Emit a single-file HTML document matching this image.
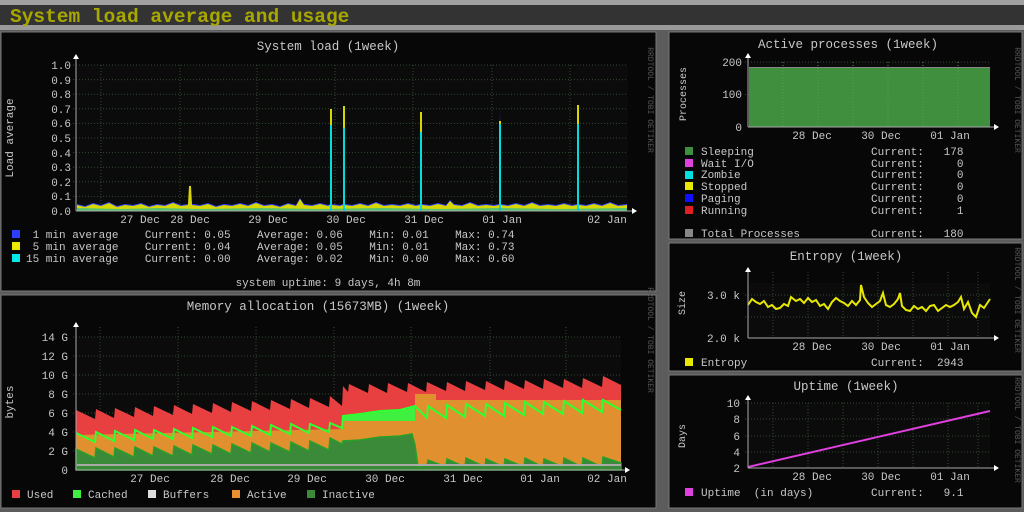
<!DOCTYPE html>
<html><head><meta charset="utf-8"><style>
html,body{margin:0;padding:0;background:#5a5a5a;width:1024px;height:512px;overflow:hidden}
svg{display:block}
text{font-family:"Liberation Mono",monospace;font-size:11px;fill:#c8c8c8}
.t{font-size:12.5px}
.w{font-size:8px;fill:#555}
.gl{stroke:#2f4a2f;stroke-dasharray:1,2}
.ax{stroke:#aaa}
</style></head><body>
<svg width="1024" height="512" xmlns="http://www.w3.org/2000/svg">
<rect x="0" y="0" width="1024" height="512" fill="#5c5c5c"/>
<rect x="0" y="0" width="1024" height="5" fill="#a0a0a0"/>
<rect x="0" y="5" width="1024" height="20" fill="#333"/>
<rect x="0" y="25" width="1024" height="5" fill="#9a9a9a"/>
<text x="10" y="22" style="font-family:'Liberation Mono',monospace;font-size:19.5px;font-weight:bold;fill:#a8a800">System load average and usage</text>
<rect x="1" y="32" width="655" height="259" fill="#070707" stroke="#777"/>
<rect x="1" y="295" width="655" height="213" fill="#070707" stroke="#777"/>
<rect x="669" y="32" width="353" height="207" fill="#070707" stroke="#777"/>
<rect x="669" y="243" width="353" height="128" fill="#070707" stroke="#777"/>
<rect x="669" y="375" width="353" height="133" fill="#070707" stroke="#777"/>

<!-- LOAD chart -->
<rect x="76" y="65" width="552" height="146" fill="#0b0b0b"/>
<g class="gl">
<line x1="73" x2="628" y1="65" y2="65"/><line x1="73" x2="628" y1="79.6" y2="79.6"/><line x1="73" x2="628" y1="94.2" y2="94.2"/><line x1="73" x2="628" y1="108.8" y2="108.8"/><line x1="73" x2="628" y1="123.4" y2="123.4"/><line x1="73" x2="628" y1="138" y2="138"/><line x1="73" x2="628" y1="152.6" y2="152.6"/><line x1="73" x2="628" y1="167.2" y2="167.2"/><line x1="73" x2="628" y1="181.8" y2="181.8"/><line x1="73" x2="628" y1="196.4" y2="196.4"/>
<line x1="101" x2="101" y1="65" y2="211"/><line x1="180" x2="180" y1="65" y2="211"/><line x1="257" x2="257" y1="65" y2="211"/><line x1="335" x2="335" y1="65" y2="211"/><line x1="413" x2="413" y1="65" y2="211"/><line x1="492" x2="492" y1="65" y2="211"/><line x1="570" x2="570" y1="65" y2="211"/>
</g>
<g text-anchor="end">
<text x="71" y="69">1.0</text><text x="71" y="84">0.9</text><text x="71" y="98">0.8</text><text x="71" y="113">0.7</text><text x="71" y="127">0.6</text><text x="71" y="142">0.5</text><text x="71" y="157">0.4</text><text x="71" y="171">0.3</text><text x="71" y="186">0.2</text><text x="71" y="200">0.1</text><text x="71" y="215">0.0</text>
</g>
<path d="M77,211 L77,204 L85,206 L93,203 L101,205 L109,202 L117,206 L125,204 L133,205 L141,203 L149,206 L157,204 L165,205 L173,202 L181,205 L188,204 L190,184 L192,204 L200,205 L208,203 L216,206 L224,204 L232,205 L240,203 L248,205 L256,202 L264,205 L272,204 L280,206 L288,203 L296,205 L300,198 L304,204 L312,205 L320,203 L328,205 L330,204 L331,107 L332,204 L340,205 L343,204 L344,105 L345,204 L352,205 L360,203 L368,205 L376,202 L384,205 L392,204 L400,205 L408,203 L416,205 L420,204 L421,111 L422,204 L430,205 L438,203 L446,205 L450,200 L454,204 L462,205 L470,202 L478,205 L486,204 L494,205 L499,204 L500,106 L501,204 L508,205 L516,203 L524,205 L532,202 L540,205 L548,204 L556,205 L564,203 L572,205 L577,204 L578,103 L579,204 L586,205 L594,203 L602,205 L610,202 L618,205 L627,204 L627,211 Z" fill="#2a3fff"/>
<path d="M77,211 L77,205 L85,207 L93,204 L101,206 L109,203 L117,207 L125,205 L133,206 L141,204 L149,207 L157,205 L165,206 L173,203 L181,206 L188,205 L189,186 L191,186 L192,205 L200,206 L208,204 L216,207 L224,205 L232,206 L240,204 L248,206 L256,203 L264,206 L272,205 L280,207 L288,204 L296,206 L300,199 L304,205 L312,206 L320,204 L328,206 L330,205 L330,109 L332,109 L332,205 L340,206 L343,205 L343,106 L345,106 L345,205 L352,206 L360,204 L368,206 L376,203 L384,206 L392,205 L400,206 L408,204 L416,206 L420,205 L420,112 L422,112 L422,205 L430,206 L438,204 L446,206 L450,201 L454,205 L462,206 L470,203 L478,206 L486,205 L494,206 L499,205 L499,121 L501,121 L501,205 L508,206 L516,204 L524,206 L532,203 L540,206 L548,205 L556,206 L564,204 L572,206 L577,205 L577,105 L579,105 L579,205 L586,206 L594,204 L602,206 L610,203 L618,206 L627,205 L627,211 Z" fill="#d8d800"/>
<g stroke="#00dede" stroke-width="2">
<line x1="331" x2="331" y1="211" y2="125"/><line x1="344" x2="344" y1="211" y2="128"/><line x1="421" x2="421" y1="211" y2="132"/><line x1="500" x2="500" y1="211" y2="124"/><line x1="578" x2="578" y1="211" y2="124"/>
</g>
<path d="M77,211 L77,208 L120,209 L160,208 L200,209 L260,208 L320,209 L380,208 L440,209 L500,208 L560,209 L627,208 L627,211 Z" fill="#00b8b8" opacity="0.6"/>
<line class="ax" x1="76" x2="632" y1="211" y2="211"/><line class="ax" x1="76" x2="76" y1="59" y2="211"/>
<polygon points="73,59 79,59 76,54" fill="#fff"/><polygon points="632,208 632,214 637,211" fill="#fff"/>
<g text-anchor="middle"><text x="140" y="223">27 Dec</text><text x="190" y="223">28 Dec</text><text x="268" y="223">29 Dec</text><text x="346" y="223">30 Dec</text><text x="424" y="223">31 Dec</text><text x="502" y="223">01 Jan</text><text x="607" y="223">02 Jan</text></g>

<!-- MEMORY chart -->
<rect x="76" y="337" width="545" height="133" fill="#0b0b0b"/>
<g class="gl">
<line x1="73" x2="621" y1="337" y2="337"/><line x1="73" x2="621" y1="356" y2="356"/><line x1="73" x2="621" y1="375" y2="375"/><line x1="73" x2="621" y1="394" y2="394"/><line x1="73" x2="621" y1="413" y2="413"/><line x1="73" x2="621" y1="432" y2="432"/><line x1="73" x2="621" y1="451" y2="451"/>
<line x1="100" x2="100" y1="327" y2="470"/><line x1="178" x2="178" y1="327" y2="470"/><line x1="256" x2="256" y1="327" y2="470"/><line x1="334" x2="334" y1="327" y2="470"/><line x1="411" x2="411" y1="327" y2="470"/><line x1="490" x2="490" y1="327" y2="470"/><line x1="566" x2="566" y1="327" y2="470"/>
</g>
<g text-anchor="end">
<text x="68" y="341">14 G</text><text x="68" y="360">12 G</text><text x="68" y="379">10 G</text><text x="68" y="398">8 G</text><text x="68" y="417">6 G</text><text x="68" y="436">4 G</text><text x="68" y="455">2 G</text><text x="68" y="474">0</text>
</g>
<path d="M76,470 L76,410 L95,419 L96,409 L114,418 L115,408 L134,417 L135,407 L153,416 L154,406 L173,415 L174,405 L192,414 L193,404 L212,413 L213,403 L231,412 L232,402 L251,411 L252,401 L270,410 L271,400 L290,409 L291,399 L309,408 L310,398 L329,407 L330,396 L342,406 L343,386 L348,392 L349,384 L368,393 L369,384 L387,393 L388,383 L407,392 L408,383 L426,392 L427,382 L446,391 L447,382 L465,391 L466,381 L485,390 L486,381 L504,390 L505,380 L524,389 L525,380 L543,389 L544,379 L563,388 L564,379 L582,388 L583,378 L602,387 L603,376 L621,385 L621,470 Z" fill="#e84040"/>
<path d="M76,470 L76,435 L343,429 L343,421 L415,421 L415,394 L436,394 L436,400 L621,400 L621,470 Z" fill="#e0902e"/>
<path d="M343,421 L343,416 L360,414 L380,411 L400,410 L415,406 L415,421 Z" fill="#40f040"/>
<path d="M76,470 L76,449 L95,458 L96,448 L114,457 L115,448 L134,457 L135,447 L153,456 L154,447 L173,456 L174,446 L192,455 L193,445 L212,454 L213,445 L231,454 L232,444 L251,453 L252,443 L270,452 L271,443 L290,452 L291,442 L309,451 L310,441 L329,450 L330,438 L342,444 L343,441 L360,440 L380,437 L400,436 L412,434 L415,445 L418,467 L427,466 L428,460 L446,467 L447,459 L465,467 L466,458 L485,467 L486,459 L504,467 L505,459 L524,467 L525,458 L543,467 L544,459 L563,467 L564,458 L582,467 L583,458 L602,467 L603,457 L621,463 L621,470 Z" fill="#3a8a3a" stroke="#28a028" stroke-width="1.5"/>
<path d="M76,433 L95,442 L96,432 L114,441 L115,431 L134,440 L135,430 L153,439 L154,430 L173,439 L174,429 L192,438 L193,428 L212,437 L213,427 L231,436 L232,427 L251,436 L252,426 L270,435 L271,425 L290,434 L291,424 L309,433 L310,424 L329,432 L330,423 L342,428 L343,416 L360,414 L380,411 L400,410 L415,406 L427,418 L428,406 L446,418 L447,405 L465,417 L466,404 L485,416 L486,404 L504,416 L505,403 L524,415 L525,402 L543,414 L544,402 L563,414 L564,401 L582,413 L583,400 L602,412 L603,400 L621,410" fill="none" stroke="#30ff30" stroke-width="2"/>
<rect x="77" y="464" width="544" height="2" fill="#aaa"/>
<line class="ax" x1="76" x2="625" y1="470" y2="470"/><line class="ax" x1="76" x2="76" y1="327" y2="470"/>
<polygon points="73,327 79,327 76,322" fill="#fff"/><polygon points="625,467 625,473 630,470" fill="#fff"/>
<g text-anchor="middle"><text x="150" y="482">27 Dec</text><text x="230" y="482">28 Dec</text><text x="307" y="482">29 Dec</text><text x="385" y="482">30 Dec</text><text x="463" y="482">31 Dec</text><text x="540" y="482">01 Jan</text><text x="607" y="482">02 Jan</text></g>

<!-- PROCESSES -->
<rect x="748" y="62" width="242" height="65" fill="#0b0b0b"/>
<g class="gl"><line x1="745" x2="990" y1="62" y2="62"/><line x1="745" x2="990" y1="94.5" y2="94.5"/></g>
<rect x="749" y="67" width="241" height="60" fill="#3f8f3f"/><line x1="749" x2="990" y1="67.5" y2="67.5" stroke="#888"/>
<g class="gl" style="stroke:#5a9a5a"><line x1="783" x2="783" y1="62" y2="127"/><line x1="818" x2="818" y1="62" y2="127"/><line x1="853" x2="853" y1="62" y2="127"/><line x1="888" x2="888" y1="62" y2="127"/><line x1="923" x2="923" y1="62" y2="127"/><line x1="958" x2="958" y1="62" y2="127"/></g>
<line class="ax" x1="748" x2="994" y1="127" y2="127"/><line class="ax" x1="748" x2="748" y1="57" y2="127"/>
<polygon points="745,58 751,58 748,53" fill="#fff"/><polygon points="994,124 994,130 999,127" fill="#fff"/>
<g text-anchor="end"><text x="742" y="66">200</text><text x="742" y="98">100</text><text x="742" y="131">0</text></g>
<g text-anchor="middle"><text x="812" y="139">28 Dec</text><text x="881" y="139">30 Dec</text><text x="950" y="139">01 Jan</text></g>

<!-- ENTROPY -->
<rect x="748" y="283" width="242" height="55" fill="#0b0b0b"/>
<g class="gl"><line x1="745" x2="990" y1="295" y2="295"/><line x1="745" x2="990" y1="317" y2="317"/>
<line x1="773" x2="773" y1="272" y2="338"/><line x1="808" x2="808" y1="272" y2="338"/><line x1="843" x2="843" y1="272" y2="338"/><line x1="878" x2="878" y1="272" y2="338"/><line x1="913" x2="913" y1="272" y2="338"/><line x1="948" x2="948" y1="272" y2="338"/><line x1="978" x2="978" y1="272" y2="338"/></g>
<path d="M748,305 L752,299 L756,302 L760,304 L764,301 L768,307 L772,305 L776,309 L780,308 L784,304 L788,306 L791,297 L796,301 L800,299 L804,303 L808,298 L812,302 L816,300 L820,306 L824,304 L828,309 L832,302 L836,298 L840,301 L844,303 L848,306 L852,301 L856,305 L860,300 L861,285 L864,297 L868,303 L872,307 L876,304 L880,301 L883,293 L886,305 L890,307 L894,304 L898,299 L900,293 L902,306 L906,310 L910,311 L914,306 L918,309 L922,307 L926,311 L930,306 L934,305 L938,311 L942,308 L946,305 L950,307 L954,305 L958,302 L961,297 L964,309 L968,302 L972,313 L976,317 L980,305 L984,308 L988,302 L990,299" fill="none" stroke="#e8e800" stroke-width="2"/>
<line class="ax" x1="748" x2="994" y1="338" y2="338"/><line class="ax" x1="748" x2="748" y1="272" y2="338"/>
<polygon points="745,272 751,272 748,267" fill="#fff"/><polygon points="994,335 994,341 999,338" fill="#fff"/>
<g text-anchor="end"><text x="740" y="299">3.0 k</text><text x="740" y="342">2.0 k</text></g>
<g text-anchor="middle"><text x="812" y="350">28 Dec</text><text x="881" y="350">30 Dec</text><text x="950" y="350">01 Jan</text></g>

<!-- UPTIME -->
<rect x="748" y="403" width="242" height="65" fill="#0b0b0b"/>
<g class="gl"><line x1="745" x2="990" y1="403" y2="403"/><line x1="745" x2="990" y1="419" y2="419"/><line x1="745" x2="990" y1="436" y2="436"/><line x1="745" x2="990" y1="452" y2="452"/>
<line x1="773" x2="773" y1="403" y2="468"/><line x1="808" x2="808" y1="403" y2="468"/><line x1="843" x2="843" y1="403" y2="468"/><line x1="878" x2="878" y1="403" y2="468"/><line x1="913" x2="913" y1="403" y2="468"/><line x1="948" x2="948" y1="403" y2="468"/><line x1="978" x2="978" y1="403" y2="468"/></g>
<line x1="748" y1="467" x2="990" y2="411" stroke="#e040e0" stroke-width="2"/>
<line class="ax" x1="748" x2="994" y1="468" y2="468"/><line class="ax" x1="748" x2="748" y1="398" y2="468"/>
<polygon points="745,400 751,400 748,395" fill="#fff"/><polygon points="994,465 994,471 999,468" fill="#fff"/>
<g text-anchor="end"><text x="740" y="407">10</text><text x="740" y="423">8</text><text x="740" y="440">6</text><text x="740" y="456">4</text><text x="740" y="472">2</text></g>
<g text-anchor="middle"><text x="812" y="480">28 Dec</text><text x="881" y="480">30 Dec</text><text x="950" y="480">01 Jan</text></g>

<!-- titles -->
<text class="t" x="328" y="50" text-anchor="middle">System load  (1week)</text>
<text class="t" x="318" y="310" text-anchor="middle">Memory allocation (15673MB)  (1week)</text>
<text class="t" x="848" y="48" text-anchor="middle">Active processes  (1week)</text>
<text class="t" x="846" y="260" text-anchor="middle">Entropy  (1week)</text>
<text class="t" x="846" y="390" text-anchor="middle">Uptime  (1week)</text>
<text x="13" y="138" text-anchor="middle" transform="rotate(-90 13 138)">Load average</text>
<text x="13" y="402" text-anchor="middle" transform="rotate(-90 13 402)">bytes</text>
<text x="686" y="94" text-anchor="middle" transform="rotate(-90 686 94)" style="font-size:10px">Processes</text>
<text x="685" y="303" text-anchor="middle" transform="rotate(-90 685 303)" style="font-size:10px">Size</text>
<text x="685" y="436" text-anchor="middle" transform="rotate(-90 685 436)" style="font-size:10px">Days</text>
<text class="w" x="648" y="100" transform="rotate(90 648 100)" text-anchor="middle">RRDTOOL / TOBI OETIKER</text>
<text class="w" x="648" y="340" transform="rotate(90 648 340)" text-anchor="middle">RRDTOOL / TOBI OETIKER</text>
<text class="w" x="1015" y="100" transform="rotate(90 1015 100)" text-anchor="middle">RRDTOOL / TOBI OETIKER</text>
<text class="w" x="1015" y="300" transform="rotate(90 1015 300)" text-anchor="middle">RRDTOOL / TOBI OETIKER</text>
<text class="w" x="1015" y="430" transform="rotate(90 1015 430)" text-anchor="middle">RRDTOOL / TOBI OETIKER</text>
<rect x="12" y="230" width="8" height="8" fill="#2a3fff"/><rect x="12" y="242" width="8" height="8" fill="#e8e800"/><rect x="12" y="254" width="8" height="8" fill="#00e8e8"/>
<text x="26" y="238" xml:space="preserve"> 1 min average    Current: 0.05    Average: 0.06    Min: 0.01    Max: 0.74</text>
<text x="26" y="250" xml:space="preserve"> 5 min average    Current: 0.04    Average: 0.05    Min: 0.01    Max: 0.73</text>
<text x="26" y="262" xml:space="preserve">15 min average    Current: 0.00    Average: 0.02    Min: 0.00    Max: 0.60</text>
<text x="328" y="286" text-anchor="middle">system uptime: 9 days, 4h 8m</text>
<rect x="12" y="490" width="8" height="8" fill="#e84040"/><rect x="73" y="490" width="8" height="8" fill="#40f040"/><rect x="148" y="490" width="8" height="8" fill="#ddd"/><rect x="232" y="490" width="8" height="8" fill="#e89030"/><rect x="307" y="490" width="8" height="8" fill="#3a8a3a"/>
<text x="27" y="498">Used</text><text x="88" y="498">Cached</text><text x="163" y="498">Buffers</text><text x="247" y="498">Active</text><text x="322" y="498">Inactive</text>
<rect x="685" y="147" width="8" height="8" fill="#3f8f3f"/><rect x="685" y="159" width="8" height="8" fill="#e040e0"/><rect x="685" y="171" width="8" height="8" fill="#00e0e0"/><rect x="685" y="182" width="8" height="8" fill="#e8e800"/><rect x="685" y="194" width="8" height="8" fill="#1010ff"/><rect x="685" y="206" width="8" height="8" fill="#e02020"/><rect x="685" y="229" width="8" height="8" fill="#888"/>
<text x="701" y="155">Sleeping</text><text x="701" y="167">Wait I/O</text><text x="701" y="178">Zombie</text><text x="701" y="190">Stopped</text><text x="701" y="202">Paging</text><text x="701" y="214">Running</text><text x="701" y="237">Total Processes</text>
<text x="871" y="155" xml:space="preserve">Current:   178</text><text x="871" y="167" xml:space="preserve">Current:     0</text><text x="871" y="178" xml:space="preserve">Current:     0</text><text x="871" y="190" xml:space="preserve">Current:     0</text><text x="871" y="202" xml:space="preserve">Current:     0</text><text x="871" y="214" xml:space="preserve">Current:     1</text><text x="871" y="237" xml:space="preserve">Current:   180</text>
<rect x="685" y="358" width="8" height="8" fill="#e8e800"/><text x="701" y="366">Entropy</text><text x="871" y="366" xml:space="preserve">Current:  2943</text>
<rect x="685" y="488" width="8" height="8" fill="#e040e0"/><text x="701" y="496" xml:space="preserve">Uptime  (in days)</text><text x="871" y="496" xml:space="preserve">Current:   9.1</text>
</svg>
</body></html>
